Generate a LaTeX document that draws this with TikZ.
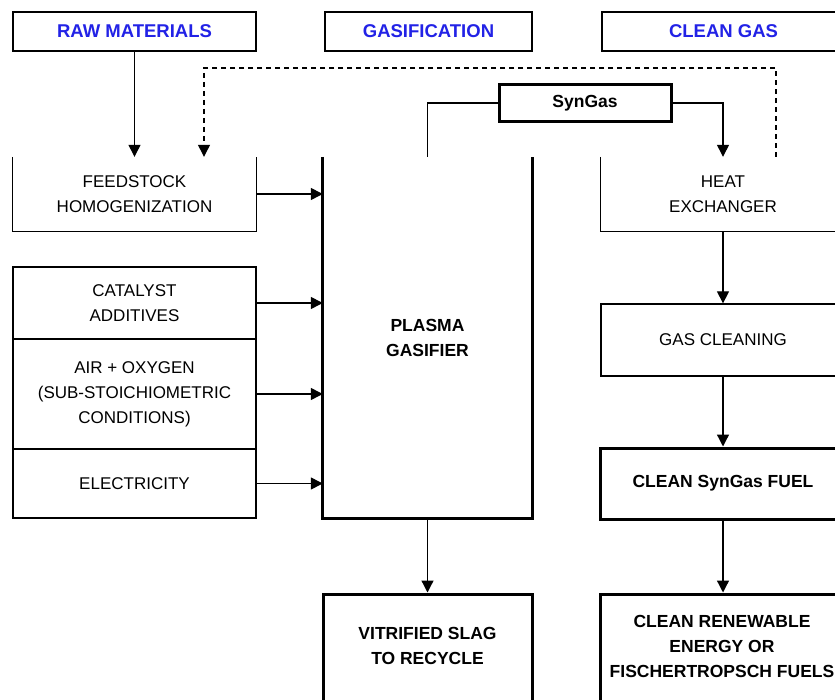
\documentclass[tikz,border=0pt]{standalone}
\usepackage{fontspec}
\setmainfont{Liberation Sans}
\usetikzlibrary{arrows.meta}
\definecolor{hdrblue}{RGB}{34,34,230}
\begin{document}
\begin{tikzpicture}[x=1pt,y=-1pt,
  txt/.style={font=\fontsize{17}{25}\selectfont, align=center, inner sep=0pt},
  boldtxt/.style={font=\fontsize{17.5}{25}\selectfont\bfseries, align=center, inner sep=0pt},
  hdrbox/.style={draw, line width=1.4pt, inner sep=0pt, text=hdrblue,
    font=\fontsize{18.5}{21}\selectfont\bfseries},
  cellbox/.style={txt, draw, line width=1.3pt},
  heavybox/.style={boldtxt, draw, line width=3pt, line join=miter},
  thinline/.style={line width=1.3pt},
  heavyline/.style={line width=3pt, line join=miter},
  flow/.style={thinline, -{Triangle[width=12pt,length=12pt]}},
  link/.style={thinline},
  dashflow/.style={thinline, dash pattern=on 5pt off 4pt, -{Triangle[width=12pt,length=12pt]}}]
\useasboundingbox (0,0) rectangle (835,700);
\clip (0,0) rectangle (835,700);

% column headings
\node[hdrbox, minimum width=243pt, minimum height=39pt] (raw) at (134.5,31.5) {RAW MATERIALS};
\node[hdrbox, minimum width=207pt, minimum height=39pt] (gashdr) at (428.5,31.5) {GASIFICATION};
\node[hdrbox, minimum width=243pt, minimum height=39pt] (cleanhdr) at (723.5,31.5) {CLEAN GAS};

% syngas tag
\node[heavybox, minimum width=172pt, minimum height=37pt] (syn) at (585,103) {SynGas};

% raw materials column
\node[txt, minimum width=243pt, minimum height=74pt] (feed) at (134.5,194) {FEEDSTOCK\\HOMOGENIZATION};
\draw[thinline] (feed.north west) -- (feed.south west) -- (feed.south east) -- (feed.north east);
\node[cellbox, minimum width=243pt, minimum height=72pt] (cat) at (134.5,303) {CATALYST\\ADDITIVES};
\node[cellbox, minimum width=243pt, minimum height=110pt] (air) at (134.5,394) {AIR + OXYGEN\\(SUB-STOICHIOMETRIC\\CONDITIONS)};
\node[cellbox, minimum width=243pt, minimum height=69pt] (elec) at (134.5,483.5) {ELECTRICITY};

% gasifier
\node[boldtxt, minimum width=209pt, minimum height=361pt] (gas) at (427.5,337.5) {PLASMA\\GASIFIER};
\draw[heavyline] (gas.north west) -- (gas.south west) -- (gas.south east) -- (gas.north east);
\node[draw, line width=3pt, minimum width=209pt, minimum height=112pt] (slag) at (427.5,650) {};
\node[boldtxt] (slagtxt) at (427.5,646) {VITRIFIED SLAG\\TO RECYCLE};

% clean gas column
\node[txt, minimum width=244pt, minimum height=74pt] (heat) at (723,194) {HEAT\\EXCHANGER};
\draw[thinline] (heat.north west) -- (heat.south west) -- (heat.south east) -- (heat.north east);
\node[cellbox, minimum width=244pt, minimum height=72pt] (clean) at (723,340) {GAS CLEANING};
\node[heavybox, minimum width=246pt, minimum height=71pt] (fuel) at (723,483.5) {CLEAN SynGas FUEL};
\node[draw, line width=3pt, minimum width=246pt, minimum height=112pt] (energy) at (723,650) {};
\node[boldtxt] (energytxt) at (722,646) {CLEAN RENEWABLE\\ENERGY OR\\FISCHERTROPSCH FUELS};

% connectors
\coordinate (recyc) at (776,157);
\draw[flow] (raw.south) -- (raw.south |- feed.north);
\draw[dashflow] (recyc) -- ++(0,-89) -| ([xshift=69.5pt]feed.north);
\draw[link] (syn.west) -| (gas.north);
\draw[flow] (syn.east) -| (heat.north);
\draw[flow] (feed.east) -- (feed.east -| gas.west);
\draw[flow] (cat.east) -- (cat.east -| gas.west);
\draw[flow] (air.east) -- (air.east -| gas.west);
\draw[flow] (elec.east) -- (elec.east -| gas.west);
\draw[flow] (gas.south) -- (slag.north);
\draw[flow] (heat.south) -- (clean.north);
\draw[flow] (clean.south) -- (fuel.north);
\draw[flow] (fuel.south) -- (energy.north);
\end{tikzpicture}
\end{document}
